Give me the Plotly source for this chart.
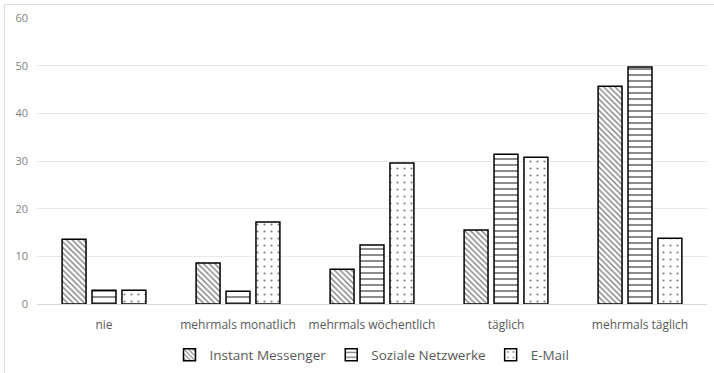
import plotly.graph_objects as go

categories = ["nie", "mehrmals monatlich", "mehrmals wöchentlich", "täglich", "mehrmals täglich"]
instant_messenger = [13.6, 8.6, 7.3, 15.5, 45.7]
soziale_netzwerke = [2.9, 2.7, 12.4, 31.4, 49.7]
email = [2.9, 17.2, 29.6, 30.8, 13.8]
y_ticks = [0, 10, 20, 30, 40, 50, 60]

series = [
    ("Instant Messenger", instant_messenger, dict(shape="\\", size=4, solidity=0.35)),
    ("Soziale Netzwerke", soziale_netzwerke, dict(shape="-", size=6, solidity=0.3)),
    ("E-Mail", email, dict(shape=".", size=7, solidity=0.08)),
]

fig = go.Figure()
for name, vals, pat in series:
    fig.add_trace(go.Bar(
        x=categories, y=vals, name=name,
        marker=dict(
            color="white",
            line=dict(color="black", width=1.5),
            pattern=dict(fgcolor="black", bgcolor="white", fillmode="overlay", **pat),
        ),
    ))

W, H = 714, 373
ml, mr, mt, mb = 37, 7, 18, 69
pw, ph = W - ml - mr, H - mt - mb

fig.update_layout(
    width=W, height=H,
    margin=dict(l=ml, r=mr, t=mt, b=mb, autoexpand=False),
    paper_bgcolor="white", plot_bgcolor="white",
    barmode="group", bargap=0.33, bargroupgap=0.2,
    font=dict(family="Open Sans, Liberation Sans, sans-serif", color="#595959", size=11),
    showlegend=True,
    legend=dict(orientation="h", x=0.5, xanchor="center",
                yref="container", y=1 - 355 / H, yanchor="middle",
                font=dict(size=13.5, color="#595959"), itemwidth=30,
                tracegroupgap=0),
    shapes=[dict(type="rect", xref="paper", yref="paper",
                 x0=(4.5 - ml) / pw, x1=(W + 5 - ml) / pw,
                 y0=-(mb + 5) / ph, y1=1 + (mt - 4.5) / ph,
                 line=dict(color="#d9d9d9", width=1), fillcolor="rgba(0,0,0,0)", layer="below")],
)
fig.update_xaxes(showgrid=False, ticks="", showline=True, linecolor="#d9d9d9", linewidth=1,
                 ticklabelstandoff=10, tickfont=dict(size=12, color="#595959"))
fig.update_yaxes(range=[0, 60], tickvals=y_ticks, showgrid=True, gridcolor="#e8e8e8", gridwidth=1,
                 zeroline=False, showline=False, ticks="", ticklabelstandoff=8,
                 tickfont=dict(size=11, color="#7f7f7f"))

fig.write_html("out.html")
